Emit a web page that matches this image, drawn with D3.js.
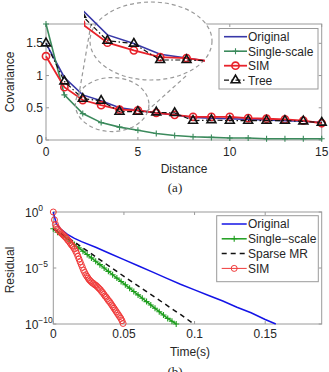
<!DOCTYPE html>
<html>
<head>
<meta charset="utf-8">
<script src="https://cdn.jsdelivr.net/npm/d3@7"></script>
<style>
    body { margin: 0; background: #fff; }
    svg text { font-family: "Liberation Sans", Arial, sans-serif; fill: #262626; font-size: 12px; }
    svg text.caption { font-family: "Liberation Serif", "Times New Roman", serif; font-size: 13px; }
</style>
</head>
<body>
<svg id="canvas" width="329" height="372"></svg>
<script>
// ---- (a) covariance vs distance
const distance = [0, 1, 2, 3, 4, 5, 6, 7, 8, 9, 10, 11, 12, 13, 14, 15];
const covOriginal = [1.50, 0.97, 0.70, 0.61, 0.50, 0.46, 0.42, 0.39, 0.35, 0.34, 0.33, 0.32, 0.31, 0.30, 0.29, 0.27];
const covSingle = [1.80, 0.70, 0.41, 0.27, 0.20, 0.15, 0.10, 0.07, 0.05, 0.04, 0.03, 0.03, 0.02, 0.02, 0.02, 0.02];
const covSim = [1.30, 0.82, 0.62, 0.54, 0.47, 0.46, 0.42, 0.39, 0.36, 0.36, 0.36, 0.34, 0.33, 0.32, 0.30, 0.26];
const covTree = [1.50, 0.91, 0.64, 0.61, 0.44, 0.44, 0.43, 0.42, 0.30, 0.31, 0.30, 0.30, 0.30, 0.30, 0.29, 0.27];
const covXTicks = [0, 5, 10, 15];
const covYTicks = [0, 0.5, 1, 1.5];
const covYTickLabels = ['0', '0.5', '1', '1.5'];
const covLegend = ['Original', 'Single-scale', 'SIM', 'Tree'];
const insetRange = [1.3, 5.7];

// ---- (b) residual vs time (log10 of residual)
const timeOriginal = [0, 0.002, 0.005, 0.01, 0.015, 0.02, 0.03, 0.04, 0.05, 0.06, 0.07, 0.08, 0.09, 0.1, 0.11, 0.12, 0.13, 0.14, 0.15, 0.1575];
const resOriginal = [0, -1.0, -1.5, -2.0, -2.35, -2.65, -3.15, -3.7, -4.25, -4.8, -5.35, -5.9, -6.45, -6.95, -7.45, -7.95, -8.5, -9.0, -9.6, -10];
const timeSingle = [0, 0.003, 0.006, 0.009, 0.012, 0.015, 0.018, 0.021, 0.024, 0.027, 0.03, 0.033, 0.036, 0.039, 0.042, 0.045, 0.048, 0.051, 0.054, 0.057, 0.06, 0.063, 0.066, 0.069, 0.072, 0.075, 0.078, 0.081, 0.084, 0.087];
const resSingle = [-1.5, -1.8, -2.05, -2.3, -2.6, -2.9, -3.2, -3.5, -3.8, -4.1, -4.4, -4.7, -5.0, -5.3, -5.6, -5.9, -6.2, -6.5, -6.8, -7.1, -7.4, -7.7, -8.0, -8.3, -8.6, -8.9, -9.2, -9.5, -9.75, -10];
const timeSparse = [0, 0.005, 0.014, 0.03, 0.05, 0.07, 0.09, 0.0995];
const resSparse = [-1.5, -1.9, -2.6, -4.0, -5.75, -7.45, -9.15, -10];
const timeSim = [0, 0.0008, 0.0015, 0.0022, 0.003, 0.0038, 0.0046, 0.0054, 0.0062, 0.007, 0.0078, 0.0086, 0.0094, 0.0102, 0.011, 0.0118, 0.0126, 0.0134, 0.0142, 0.015, 0.0158, 0.0166, 0.0174, 0.0182, 0.019, 0.0198, 0.0206, 0.0214, 0.0222, 0.023, 0.0238, 0.0246, 0.0254, 0.0262, 0.027, 0.0278, 0.0286, 0.0294, 0.0302, 0.031, 0.0318, 0.0326, 0.0334, 0.0342, 0.035, 0.0358, 0.0366, 0.0374, 0.0382, 0.039, 0.0398, 0.0406, 0.0414, 0.0422, 0.043, 0.0438, 0.0446, 0.0454, 0.0462, 0.047, 0.0478, 0.0486, 0.0494];
const resSim = [0, -0.7, -1.1, -1.35, -1.5, -1.65, -1.75, -1.85, -1.95, -2.05, -2.15, -2.25, -2.35, -2.5, -2.6, -2.75, -2.9, -3.0, -3.15, -3.3, -3.5, -3.7, -3.95, -4.2, -4.45, -4.7, -4.95, -5.2, -5.4, -5.6, -5.75, -5.9, -6.05, -6.15, -6.25, -6.35, -6.4, -6.5, -6.55, -6.65, -6.75, -6.85, -6.95, -7.1, -7.2, -7.35, -7.5, -7.6, -7.75, -7.9, -8.0, -8.15, -8.3, -8.45, -8.6, -8.75, -8.9, -9.05, -9.2, -9.35, -9.5, -9.7, -9.95];
const timeTicks = [0, 0.05, 0.1, 0.15];
const timeTickLabels = ['0', '0.05', '0.1', '0.15'];
const resTicks = [0, -5, -10];
const resTickLabels = ['0', '\u22125', '\u221210'];
const resLegend = ['Original', 'Single\u2212scale', 'Sparse MR', 'SIM'];

const svg = d3.select('svg#canvas');
const AXIS = '#9a9a9a';
const plusPath = 'M-3,0H3M0,-3V3';
const triPath = d3.symbol(d3.symbolTriangle, 34)();

function frame(g, x, y, xt, yt) {
    const [x0, x1] = x.range(), [y0, y1] = y.range();
    g.append('rect')
        .attr('x', x0).attr('y', y1).attr('width', x1 - x0).attr('height', y0 - y1)
        .attr('fill', 'none').attr('stroke', AXIS);
    xt.forEach(v => {
        g.append('path').attr('d', `M${x(v)},${y0}v-3M${x(v)},${y1}v3`).attr('stroke', AXIS);
    });
    yt.forEach(v => {
        g.append('path').attr('d', `M${x0},${y(v)}h3M${x1},${y(v)}h-3`).attr('stroke', AXIS);
    });
}

function pts(xs, ys) {
    return xs.map((d, i) => [d, ys[i]]);
}

// ---------- (a)
const xA = d3.scaleLinear().domain([0, 15]).range([46, 321.7]);
const yA = d3.scaleLinear().domain([0, 1.8]).range([140, 24]);
const gA = svg.append('g');
frame(gA, xA, yA, covXTicks, covYTicks);

gA.selectAll('text.xt').data(covXTicks).join('text')
    .attr('x', d => xA(d)).attr('y', 156).attr('text-anchor', 'middle').text(d => d);
gA.selectAll('text.yt').data(covYTicks).join('text')
    .attr('x', 43).attr('y', d => yA(d) + 4).attr('text-anchor', 'end').text((d, i) => covYTickLabels[i]);
gA.append('text').attr('x', 184).attr('y', 173).attr('text-anchor', 'middle').text('Distance');
gA.append('text').attr('transform', 'translate(14,82) rotate(-90)').attr('text-anchor', 'middle').text('Covariance');
svg.append('text').attr('class', 'caption').attr('x', 175).attr('y', 192).attr('text-anchor', 'middle').text('(a)');

const covSeries = [
    {name: 'Original', v: covOriginal, color: '#3838a8', w: 1.6, dash: null, mark: null},
    {name: 'Single-scale', v: covSingle, color: '#3b8a5c', w: 1.6, dash: null, mark: 'plus'},
    {name: 'SIM', v: covSim, color: '#e8232b', w: 1.8, dash: null, mark: 'circle'},
    {name: 'Tree', v: covTree, color: '#111', w: 1.2, dash: '5,2.5,1.5,2.5', mark: 'tri'}
];

function drawCov(g, x, y, series) {
    const line = d3.line().x(d => x(d[0])).y(d => y(d[1]));
    series.forEach(s => {
        const p = pts(distance, s.v);
        g.append('path').attr('d', line(p)).attr('fill', 'none')
            .attr('stroke', s.color).attr('stroke-width', s.w).attr('stroke-dasharray', s.dash);
        addMarks(g, p.map(d => [x(d[0]), y(d[1])]), s);
    });
}

function addMarks(g, xy, s) {
    if (s.mark === 'plus') {
        g.selectAll(null).data(xy).join('path').attr('d', plusPath)
            .attr('transform', d => `translate(${d[0]},${d[1]})`).attr('stroke', s.color).attr('stroke-width', 1.1);
    } else if (s.mark === 'circle') {
        g.selectAll(null).data(xy).join('circle').attr('cx', d => d[0]).attr('cy', d => d[1]).attr('r', s.r || 3.6)
            .attr('fill', 'none').attr('stroke', s.color).attr('stroke-width', s.mw || 1.6);
    } else if (s.mark === 'tri') {
        g.selectAll(null).data(xy).join('path').attr('d', triPath)
            .attr('transform', d => `translate(${d[0]},${d[1]})`).attr('fill', 'none').attr('stroke', s.color).attr('stroke-width', 1.6);
    }
}

drawCov(gA, xA, yA, covSeries);

// zoom callout
const dashStyle = el => el.attr('fill', 'none').attr('stroke', '#999').attr('stroke-width', 1.2).attr('stroke-dasharray', '4,3');
dashStyle(gA.append('ellipse').attr('cx', xA(3.6)).attr('cy', yA(0.55)).attr('rx', xA(5.6) - xA(3.6)).attr('ry', 27));
dashStyle(gA.append('path').attr('d', 'M91,24L78,100M186,76L146,112'));
gA.append('ellipse').attr('cx', 151).attr('cy', 41).attr('rx', 61).attr('ry', 39).attr('fill', '#fff');
dashStyle(gA.append('ellipse').attr('cx', 151).attr('cy', 41).attr('rx', 61).attr('ry', 39));

const xI = d3.scaleLinear().domain(insetRange).range([89, 205]);
const yI = d3.scaleLinear().domain([0.44, 0.64]).range([60, 40.7]);
svg.append('clipPath').attr('id', 'insetClip').append('rect')
    .attr('x', xI(insetRange[0]) - 5).attr('y', 0).attr('width', xI(insetRange[1]) - xI(insetRange[0]) + 5).attr('height', 90);
const gI = gA.append('g').attr('clip-path', 'url(#insetClip)');
drawCov(gI, xI, yI, covSeries.filter(s => s.name !== 'Single-scale'));

// legend (a)
const legA = gA.append('g');
legA.append('rect').attr('x', 219).attr('y', 28.5).attr('width', 99).attr('height', 60.5)
    .attr('fill', '#fff').attr('stroke', AXIS);
covSeries.forEach((s, i) => {
    const yy = 36.7 + i * 14.5;
    legA.append('path').attr('d', `M224,${yy}H247`).attr('stroke', s.color)
        .attr('stroke-width', s.w).attr('stroke-dasharray', s.dash);
    addMarks(legA, [[235.5, yy]], s);
    legA.append('text').attr('x', 248).attr('y', yy + 4.3).text(covLegend[i]);
});

// ---------- (b)
const xB = d3.scaleLinear().domain([0, 0.19]).range([53.3, 321.7]);
const yB = d3.scaleLog().domain([1e-10, 1]).range([324, 212]);
const gB = svg.append('g');
frame(gB, xB, yB, timeTicks, resTicks.map(e => Math.pow(10, e)));

gB.selectAll('text.xt').data(timeTicks).join('text')
    .attr('x', d => xB(d)).attr('y', 338).attr('text-anchor', 'middle').text((d, i) => timeTickLabels[i]);
resTicks.forEach((e, i) => {
    const t = gB.append('text').attr('x', 25).attr('y', yB(Math.pow(10, e)) + 5).text('10');
    t.append('tspan').attr('dy', -6).attr('font-size', '8.5px').text(resTickLabels[i]);
});
gB.append('text').attr('x', 190).attr('y', 356).attr('text-anchor', 'middle').text('Time(s)');
gB.append('text').attr('transform', 'translate(14,270) rotate(-90)').attr('text-anchor', 'middle').text('Residual');
svg.append('text').attr('class', 'caption').attr('x', 175).attr('y', 376).attr('text-anchor', 'middle').text('(b)');

const resSeries = [
    {t: timeOriginal, v: resOriginal, color: '#1414e6', w: 1.5, dash: null, mark: null},
    {t: timeSingle, v: resSingle, color: '#1e9e1e', w: 1.5, dash: null, mark: 'plus'},
    {t: timeSparse, v: resSparse, color: '#111', w: 1.5, dash: '5,4', mark: null},
    {t: timeSim, v: resSim, color: '#f03a3a', w: 1, dash: null, mark: 'circle', r: 3, mw: 1}
];
const lineB = d3.line().x(d => xB(d[0])).y(d => yB(Math.pow(10, d[1])));
resSeries.forEach(s => {
    const p = pts(s.t, s.v);
    if (s.mark !== 'circle') {
        gB.append('path').attr('d', lineB(p)).attr('fill', 'none')
            .attr('stroke', s.color).attr('stroke-width', s.w).attr('stroke-dasharray', s.dash);
    }
    addMarks(gB, p.map(d => [xB(d[0]), yB(Math.pow(10, d[1]))]), s);
});

// legend (b)
const legB = gB.append('g');
legB.append('rect').attr('x', 216.7).attr('y', 215.7).attr('width', 101.6).attr('height', 66)
    .attr('fill', '#fff').attr('stroke', AXIS);
resSeries.forEach((s, i) => {
    const yy = 224 + i * 14.8;
    legB.append('path').attr('d', `M221.7,${yy}H246.7`).attr('stroke', s.color)
        .attr('stroke-width', s.w).attr('stroke-dasharray', s.dash);
    addMarks(legB, [[234.2, yy]], s);
    legB.append('text').attr('x', 248).attr('y', yy + 4.3).text(resLegend[i]);
});
</script>
</body>
</html>
